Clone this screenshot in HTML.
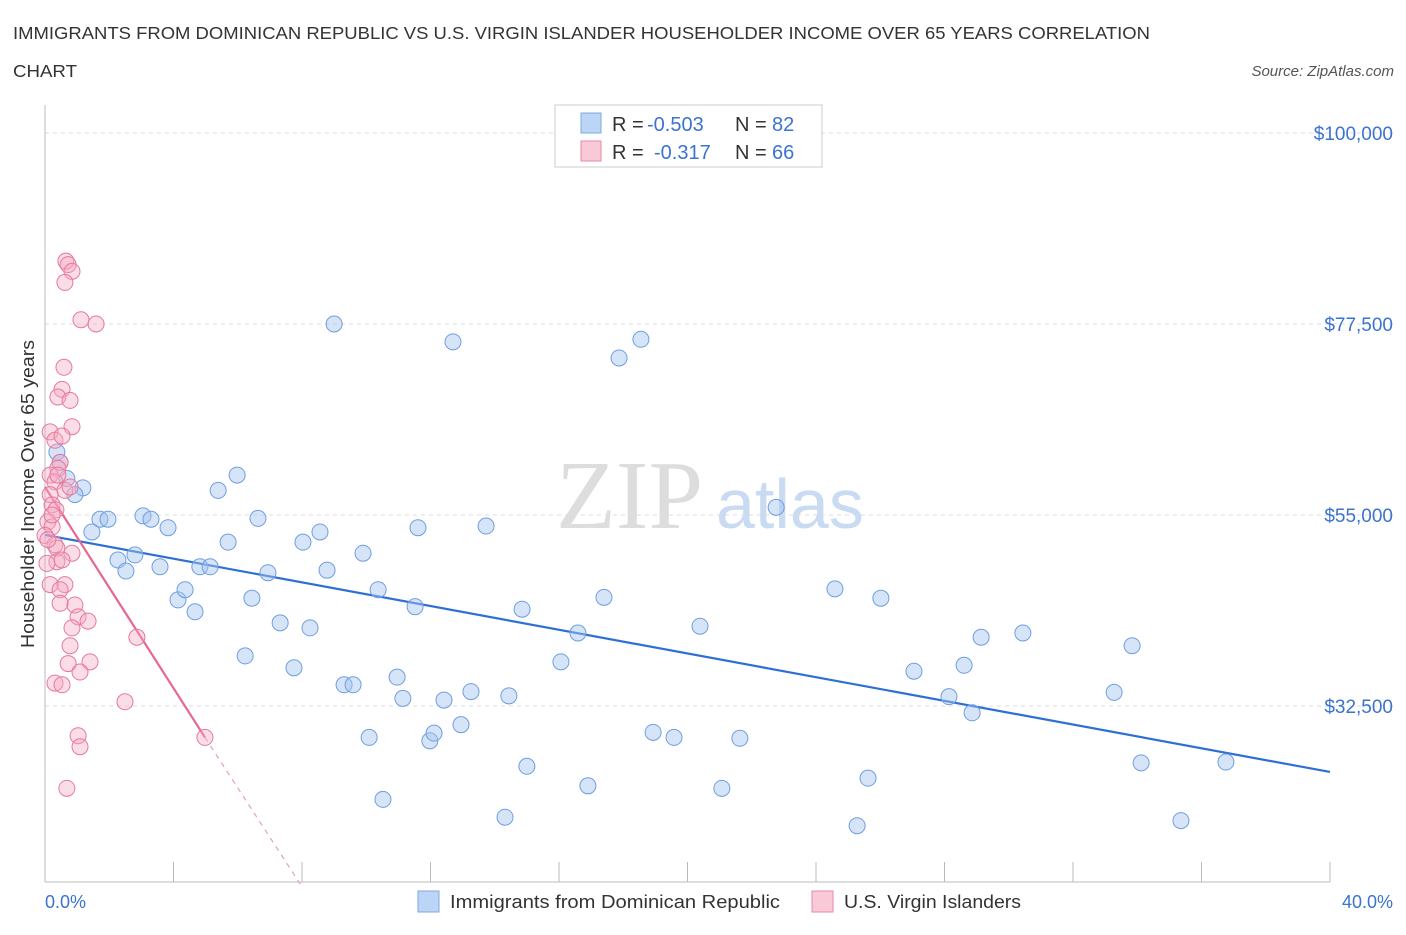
<!DOCTYPE html>
<html><head><meta charset="utf-8"><style>
body{margin:0;background:#fff;font-family:"Liberation Sans",sans-serif;}
svg text{font-family:"Liberation Sans",sans-serif;}
</style></head><body>
<svg id="chart" width="1406" height="930">
<text x="13" y="39" font-size="17.5" fill="#333" textLength="1137" lengthAdjust="spacingAndGlyphs">IMMIGRANTS FROM DOMINICAN REPUBLIC VS U.S. VIRGIN ISLANDER HOUSEHOLDER INCOME OVER 65 YEARS CORRELATION</text>
<text x="13" y="77" font-size="17.5" fill="#333" textLength="64" lengthAdjust="spacingAndGlyphs">CHART</text>
<text x="1394" y="76" font-size="15" fill="#555" font-style="italic" text-anchor="end">Source: ZipAtlas.com</text>
<text transform="translate(34,494) rotate(-90)" font-size="18" fill="#333" text-anchor="middle" textLength="308" lengthAdjust="spacingAndGlyphs">Householder Income Over 65 years</text>
<g>
<text x="556" y="528" font-size="98" fill="#ddd" font-family="Liberation Serif" style="font-family:'Liberation Serif',serif">ZIP</text>
<text x="716" y="528" font-size="70" fill="#c9daf3">atlas</text>
</g>
<g id="grid"></g><g id="axes"></g><g id="lines"></g><g id="pts"></g>
<g>
<rect x="555" y="105" width="267" height="62" fill="#fff" stroke="#ccc"/>
<rect x="581" y="113" width="20" height="20" fill="#bcd4f6" stroke="#7fa8e0"/>
<text y="131" font-size="20" fill="#333"><tspan x="612">R =</tspan><tspan x="647" fill="#3b73d0">-0.503</tspan><tspan x="735">N =</tspan><tspan x="772" fill="#3b73d0">82</tspan></text>
<rect x="581" y="141" width="20" height="20" fill="#f9c9d8" stroke="#e88aa8"/>
<text y="159" font-size="20" fill="#333"><tspan x="612">R =</tspan><tspan x="654" fill="#3b73d0">-0.317</tspan><tspan x="735">N =</tspan><tspan x="772" fill="#3b73d0">66</tspan></text>
</g>
<text x="45" y="908" font-size="18" fill="#3b73d0">0.0%</text>
<text x="1393" y="908" font-size="18" fill="#3b73d0" text-anchor="end">40.0%</text>
<rect x="418" y="891" width="21" height="21" fill="#bcd4f6" stroke="#7fa8e0"/>
<text x="450" y="908" font-size="18" fill="#333" textLength="330" lengthAdjust="spacingAndGlyphs">Immigrants from Dominican Republic</text>
<rect x="812" y="891" width="21" height="21" fill="#f9c9d8" stroke="#e88aa8"/>
<text x="844" y="908" font-size="18" fill="#333" textLength="177" lengthAdjust="spacingAndGlyphs">U.S. Virgin Islanders</text>
</svg>
<script>
const yTicks=[100000,77500,55000,32500];
const yTickLabels=["$100,000","$77,500","$55,000","$32,500"];
const xTicks=[0,4,8,12,16,20,24,28,32,36,40];
const blueX=[.37,.47,.68,1.18,.93,1.71,1.96,1.46,2.27,2.52,2.80,3.05,3.30,3.83,3.58,4.14,4.36,4.67,4.82,5.14,5.39,5.70,5.98,6.44,6.63,6.23,6.94,7.32,7.75,8.03,8.25,8.56,8.78,9.00,9.31,9.59,9.90,10.09,10.37,10.52,10.96,11.14,11.52,11.61,11.98,12.11,12.42,12.70,12.95,13.26,13.73,14.32,14.44,14.85,15.00,16.06,16.59,16.90,17.40,17.87,18.55,18.93,19.58,20.39,21.07,21.63,22.76,24.59,25.28,25.62,26.02,27.05,28.14,28.61,28.86,29.14,30.44,33.28,33.84,34.12,35.36,36.76];
const blueY=[62.4,61.2,59.3,58.2,57.4,54.5,54.5,53.0,49.7,48.4,50.3,54.9,54.5,53.5,48.9,45.0,46.2,43.6,48.9,48.9,57.9,51.8,59.7,45.2,54.6,38.4,48.2,42.3,37.0,51.8,41.7,53.0,48.5,77.5,35.0,35.0,50.5,28.8,46.2,21.5,35.9,33.4,44.2,53.5,28.4,29.3,33.2,75.4,30.3,34.2,53.7,19.4,33.7,43.9,25.4,37.7,41.1,23.1,45.3,73.5,75.7,29.4,28.8,41.9,22.8,28.7,55.9,46.3,18.4,24.0,45.2,36.6,33.6,37.3,31.7,40.6,41.1,34.1,39.6,25.8,19.0,25.9];
const pinkX=[.16,.31,.47,.53,.40,.59,.65,.72,.84,.62,1.12,1.59,.78,.84,.53,.40,.16,.31,.62,.78,.16,.22,.34,.09,.22,0,.31,.37,.84,.37,.53,.06,.62,.16,.47,.93,1.03,1.34,.84,.78,.72,1.40,1.09,.31,.53,2.86,2.49,1.03,1.09,.68,4.98,.40,.22,.09,.47];
const pinkY=[64.8,63.8,61.2,69.8,68.9,72.4,84.9,84.5,83.7,82.4,78.0,77.5,68.5,65.4,64.3,60.5,59.7,58.9,57.9,58.3,57.4,56.2,55.6,54.2,53.6,52.6,51.5,51.1,50.5,49.5,49.7,49.3,46.8,46.8,46.2,44.4,43.0,42.5,41.7,39.6,37.5,37.7,36.5,35.2,35.0,40.6,33.0,29.0,27.7,22.8,28.8,59.7,55.0,52.1,44.6];
const blueTrend=[[0,52.65],[40,24.73]];
const pinkTrend=[[0,58.3],[4.98,28.8]];
const pinkDash=[[4.98,28.8],[7.95,11.5]];
const X=v=>45+v*1285/40;
const Y=k=>133+(100-k)*8.489;
const NS="http://www.w3.org/2000/svg";
function mk(t,p,a){const e=document.createElementNS(NS,t);for(const k in a)e.setAttribute(k,a[k]);p.appendChild(e);return e;}
const grid=document.getElementById('grid'),axes=document.getElementById('axes'),lines=document.getElementById('lines'),pts=document.getElementById('pts');
yTicks.forEach((t,i)=>{const y=Y(t/1000);
 const l=mk('line',grid,{x1:45,x2:1393,y1:y,y2:y,stroke:'#ddd','stroke-dasharray':'4,4'});
 
 
 const tx=mk('text',grid,{x:1393,y:y+7,'font-size':19,fill:'#3b73d0','text-anchor':'end'});tx.textContent=yTickLabels[i];
 
 
});
const ax=mk('line',axes,{x1:45,x2:1330,y1:882,y2:882,stroke:'#bbb'});


const ay=mk('line',axes,{x1:45,x2:45,y1:105,y2:882,stroke:'#bbb'});


xTicks.forEach(t=>{const x=X(t);const l=mk('line',axes,{x1:x,x2:x,y1:862,y2:882,stroke:'#bbb'});
 
 });
function dot(x,y,fill,stroke,name){const c=mk('circle',pts,{cx:X(x),cy:Y(y),r:8,fill:fill,stroke:stroke,'stroke-width':1});
 
 }
blueX.forEach((x,i)=>dot(x,blueY[i],'rgba(164,196,240,0.45)','#6f9ee0','blue-point'));
pinkX.forEach((x,i)=>dot(x,pinkY[i],'rgba(244,170,195,0.4)','#e6799d','pink-point'));
function seg(p,col,w,dash,name){const l=mk('line',lines,{x1:X(p[0][0]),y1:Y(p[0][1]),x2:X(p[1][0]),y2:Y(p[1][1]),stroke:col,'stroke-width':w});
 if(dash)l.setAttribute('stroke-dasharray',dash);
 
 }
seg(blueTrend,'#2e6fd6',2.2,null,'blue-trend-line');
seg(pinkTrend,'#e6678f',2.2,null,'pink-trend-line');
seg(pinkDash,'#e6a0b8',1.2,'5,5','pink-trend-extension');
</script>
</body></html>
